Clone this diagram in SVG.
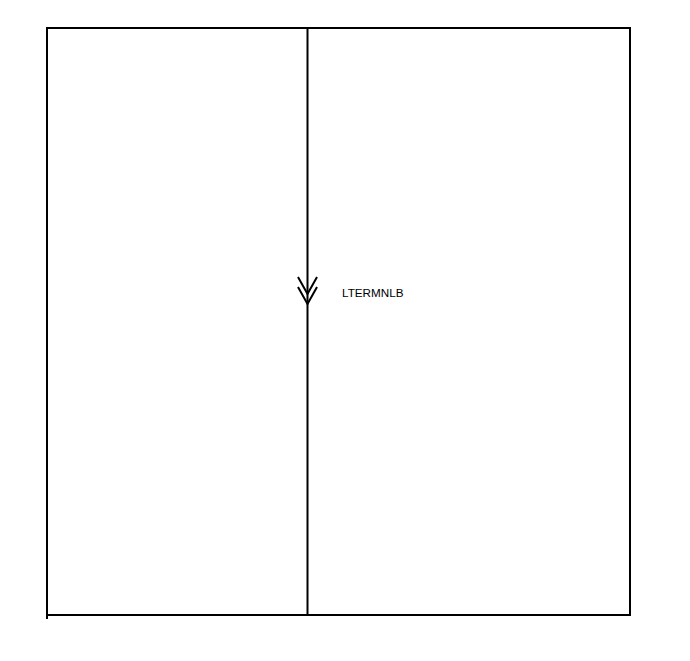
<svg xmlns="http://www.w3.org/2000/svg" width="690" height="661" viewBox="0 0 690 661">
<style>
.ln{stroke:#000;stroke-width:2;fill:none}
.lbl{font-family:"Liberation Sans",Arial,sans-serif;font-size:11.7px;fill:#000}
</style>
<rect width="690" height="661" fill="#fff"/>
<g id="frame">
<path class="ln" d="M47,28 H630 V615 H47 Z"/>
<path class="ln" d="M47,615 V619"/>
</g>
<g id="connectors">
<path class="ln" d="M307.5,28 V615"/>
<path class="ln" d="M298,277 L307.5,294 L317,277"/>
<path class="ln" d="M298,287 L307.5,304 L317,287"/>
</g>
<g id="label">
<text class="lbl" x="342" y="297">LTERMNLB</text>
</g>
</svg>
